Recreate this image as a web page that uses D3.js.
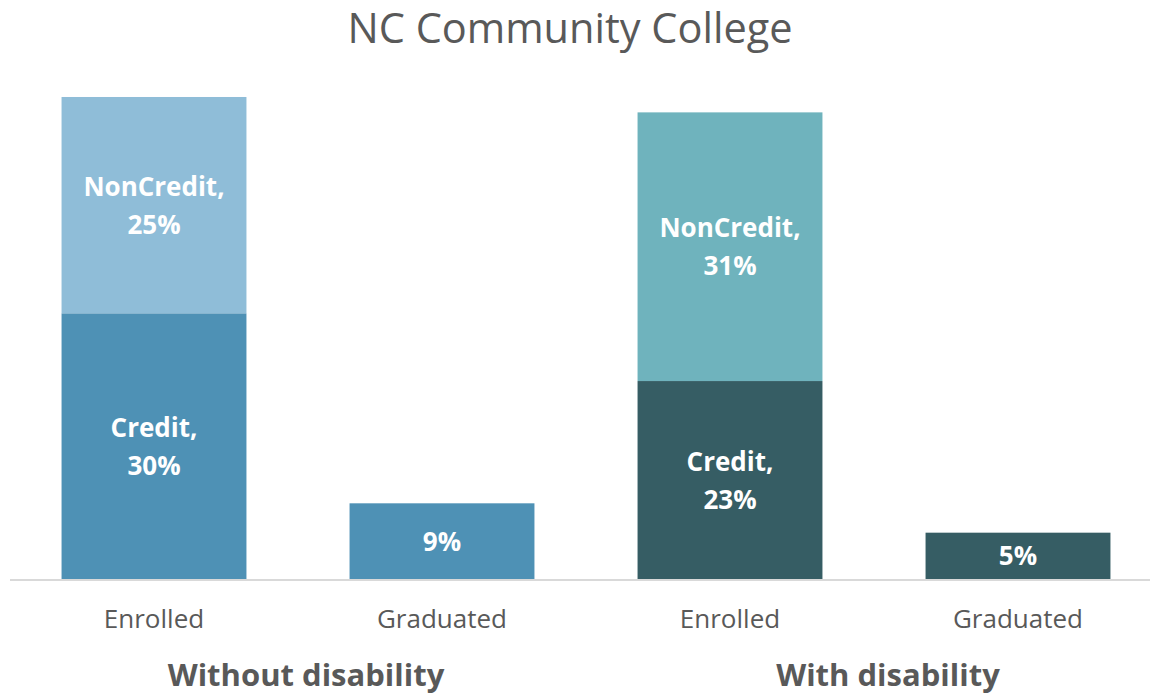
<!DOCTYPE html>
<html>
<head>
<meta charset="utf-8">
<script src="https://cdn.jsdelivr.net/npm/d3@7"></script>
<style>
  html, body { margin: 0; padding: 0; background: #ffffff; }
  svg { display: block; }
  text { font-family: "Open Sans", "DejaVu Sans", sans-serif; }
</style>
</head>
<body>
<svg id="chart" width="1150" height="695"></svg>
<script>
// ---- data ----
const title = "NC Community College";
const categories = ["Enrolled", "Graduated", "Enrolled", "Graduated"];
const groups = ["Without disability", "With disability"];
const groupOf = [0, 0, 1, 1];
const creditValues = [30.4, 8.66, 22.65, 5.3];       // bottom segment (%)
const nonCreditValues = [24.75, 0, 30.74, 0];        // top segment (%)
const creditLabels = ["Credit,", "", "Credit,", ""]; // prefix for segment labels
const nonCreditLabels = ["NonCredit,", "", "NonCredit,", ""];
const creditColors = ["#4e91b5", "#4e91b5", "#365d64", "#365d64"];
const nonCreditColors = ["#8fbdd8", "#8fbdd8", "#6fb3bd", "#6fb3bd"];

const svg = d3.select("#chart");
const W = 1150, H = 695;
const keys = d3.range(categories.length);

const x = d3.scaleBand().domain(keys).range([10, 1162]).paddingInner(0.358).paddingOuter(0.179);
const y = d3.scaleLinear().domain([0, 60]).range([579, 54.6]);

// title
svg.append("text")
  .attr("x", 570).attr("y", 43)
  .attr("text-anchor", "middle")
  .attr("font-size", 41.5)
  .attr("fill", "#595959")
  .text(title);

// bars
const fmt = v => Math.round(v) + "%";
const g = svg.append("g");
keys.forEach(i => {
  const x0 = x(i), bw = x.bandwidth();
  const c = creditValues[i], n = nonCreditValues[i];
  g.append("rect")
    .attr("x", x0).attr("width", bw)
    .attr("y", y(c)).attr("height", y(0) - y(c))
    .attr("fill", creditColors[i]);
  if (n > 0) {
    g.append("rect")
      .attr("x", x0).attr("width", bw)
      .attr("y", y(c + n)).attr("height", y(c) - y(c + n))
      .attr("fill", nonCreditColors[i]);
  }
  const addLabel = (lo, hi, prefix) => {
    const cy = (y(lo) + y(hi)) / 2;
    const t = g.append("text")
      .attr("text-anchor", "middle")
      .attr("font-size", 26).attr("font-weight", "bold")
      .attr("fill", "#ffffff");
    if (prefix) {
      t.append("tspan").attr("x", x0 + bw / 2).attr("y", cy - 19 + 9.5).text(prefix);
      t.append("tspan").attr("x", x0 + bw / 2).attr("y", cy + 19 + 9.5).text(fmt(hi - lo));
    } else {
      t.append("tspan").attr("x", x0 + bw / 2).attr("y", cy + 9.5).text(fmt(hi - lo));
    }
  };
  addLabel(0, c, creditLabels[i]);
  if (n > 0) addLabel(c, c + n, nonCreditLabels[i]);
});

// axis baseline
svg.append("line")
  .attr("x1", 10).attr("x2", W)
  .attr("y1", y(0) + 1).attr("y2", y(0) + 1)
  .attr("stroke", "#d9d9d9").attr("stroke-width", 2);

// category labels
svg.append("g").selectAll("text").data(keys).join("text")
  .attr("x", d => x(d) + x.bandwidth() / 2)
  .attr("y", 628)
  .attr("text-anchor", "middle")
  .attr("font-size", 26)
  .attr("fill", "#595959")
  .text(d => categories[d]);

// group labels
const groupCenters = groups.map((_, gi) => {
  const idx = keys.filter(k => groupOf[k] === gi);
  return (x(idx[0]) + x(idx[idx.length - 1]) + x.bandwidth()) / 2;
});
svg.append("g").selectAll("text").data(groups).join("text")
  .attr("x", (d, gi) => groupCenters[gi] + (gi === 0 ? 8 : 14))
  .attr("y", 686)
  .attr("text-anchor", "middle")
  .attr("font-size", 31).attr("font-weight", "bold")
  .attr("fill", "#595959")
  .text(d => d);
</script>
</body>
</html>
